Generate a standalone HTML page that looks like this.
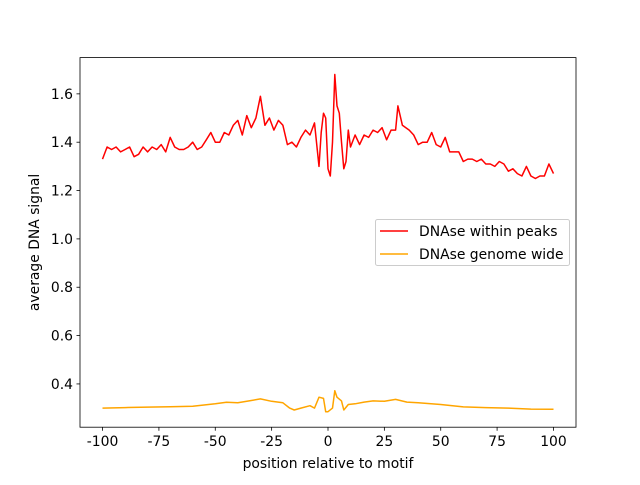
<!DOCTYPE html>
<html><head><meta charset="utf-8"><style>
body{margin:0;background:#fff}
svg text{font-family:"DejaVu Sans","Liberation Sans",sans-serif;font-size:13.9px;fill:#000}
</style></head><body>
<svg id="chart" width="640" height="480">
<rect width="640" height="480" fill="#fff"/>
<g id="plot"></g>
</svg>
<script>
const redX=[-100,-98,-96,-94,-92,-90,-88,-86,-84,-82,-80,-78,-76,-74,-72,-70,-68,-66,-64,-62,-60,-58,-56,-54,-52,-50,-48,-46,-44,-42,-40,-38,-36,-34,-32,-30,-28,-26,-24,-22,-20,-18,-16,-14,-12,-10,-8,-6,-4,-3,-2,-1,0,1,2,3,4,5,6,7,8,9,10,12,14,16,18,20,22,24,26,28,30,31,33,36,38,40,42,44,46,48,50,52,54,56,58,60,62,64,66,68,70,72,74,76,78,80,82,84,86,88,90,92,94,96,98,100];
const redY=[1.33,1.38,1.37,1.38,1.36,1.37,1.38,1.34,1.35,1.38,1.36,1.38,1.37,1.39,1.36,1.42,1.38,1.37,1.37,1.38,1.40,1.37,1.38,1.41,1.44,1.40,1.40,1.44,1.43,1.47,1.49,1.43,1.51,1.46,1.50,1.59,1.47,1.50,1.45,1.49,1.47,1.39,1.40,1.38,1.42,1.45,1.43,1.48,1.30,1.44,1.52,1.50,1.29,1.26,1.40,1.68,1.55,1.52,1.40,1.29,1.32,1.45,1.38,1.43,1.39,1.43,1.42,1.45,1.44,1.46,1.41,1.45,1.45,1.55,1.47,1.45,1.43,1.39,1.40,1.40,1.44,1.39,1.38,1.42,1.36,1.36,1.36,1.32,1.33,1.33,1.32,1.33,1.31,1.31,1.30,1.32,1.31,1.28,1.29,1.27,1.26,1.30,1.26,1.25,1.26,1.26,1.31,1.27];
const orX=[-100,-90,-80,-70,-60,-50,-45,-40,-35,-30,-25,-20,-17,-15,-12,-8,-6,-4,-2,-1,0,2,3,4,6,7,9,12,16,20,25,30,35,40,50,60,70,80,90,100];
const orY=[0.300,0.302,0.304,0.306,0.308,0.318,0.324,0.322,0.330,0.338,0.328,0.322,0.300,0.292,0.300,0.310,0.300,0.345,0.340,0.285,0.285,0.300,0.372,0.345,0.330,0.292,0.315,0.318,0.325,0.330,0.328,0.336,0.325,0.322,0.315,0.305,0.302,0.300,0.296,0.295];
const xTicks=[-100,-75,-50,-25,0,25,50,75,100];
const yTicks=[0.4,0.6,0.8,1.0,1.2,1.4,1.6];
const L=80,R=576,T=57.6,B=427.2,xmin=-110,xmax=110,ymin=0.221,ymax=1.75;
const sx=v=>L+(v-xmin)/(xmax-xmin)*(R-L);
const sy=v=>B-(v-ymin)/(ymax-ymin)*(B-T);
const NS="http://www.w3.org/2000/svg";
const g=document.getElementById('plot');
function mk(t,a,p){const e=document.createElementNS(NS,t);for(const k in a)e.setAttribute(k,a[k]);(p||g).appendChild(e);return e;}
function line(xs,ys,c,name){const e=mk('path',{d:xs.map((x,i)=>(i?'L':'M')+sx(x).toFixed(1)+','+sy(ys[i]).toFixed(1)).join(''),fill:'none',stroke:c,'stroke-width':1.5,'stroke-linejoin':'round'});

}
line(redX,redY,'#ff0000','dnase-within-peaks-line');
line(orX,orY,'#ffa500','dnase-genome-wide-line');
const fr=mk('rect',{x:L,y:T,width:R-L,height:B-T,fill:'none',stroke:'#000','stroke-width':0.8});


xTicks.forEach(v=>{const x=sx(v);mk('line',{x1:x,x2:x,y1:B,y2:B+3.5,stroke:'#000','stroke-width':0.8});
const t=mk('text',{x:x,y:B+19,'text-anchor':'middle'});t.textContent=v;

});
yTicks.forEach(v=>{const y=sy(v);mk('line',{x1:L-3.5,x2:L,y1:y,y2:y,stroke:'#000','stroke-width':0.8});
const t=mk('text',{x:L-7,y:y+5,'text-anchor':'end'});t.textContent=v.toFixed(1);

});
const xt=mk('text',{x:(L+R)/2,y:468,'text-anchor':'middle'});xt.textContent='position relative to motif';


const yt=mk('text',{x:0,y:0,'text-anchor':'middle',transform:'translate(39,'+((T+B)/2)+') rotate(-90)'});yt.textContent='average DNA signal';


const lg=mk('g',{});


mk('rect',{x:375.5,y:219.5,width:194,height:46,rx:2,fill:'#fff',stroke:'#ccc','stroke-width':1},lg);
[['DNAse within peaks','#ff0000',231],['DNAse genome wide','#ffa500',254]].forEach(([s,c,y])=>{
const e=mk('g',{},lg);


mk('line',{x1:380,x2:408,y1:y,y2:y,stroke:c,'stroke-width':1.5},e);
const t=mk('text',{x:419,y:y+5},e);t.textContent=s;});
</script>
</body></html>
